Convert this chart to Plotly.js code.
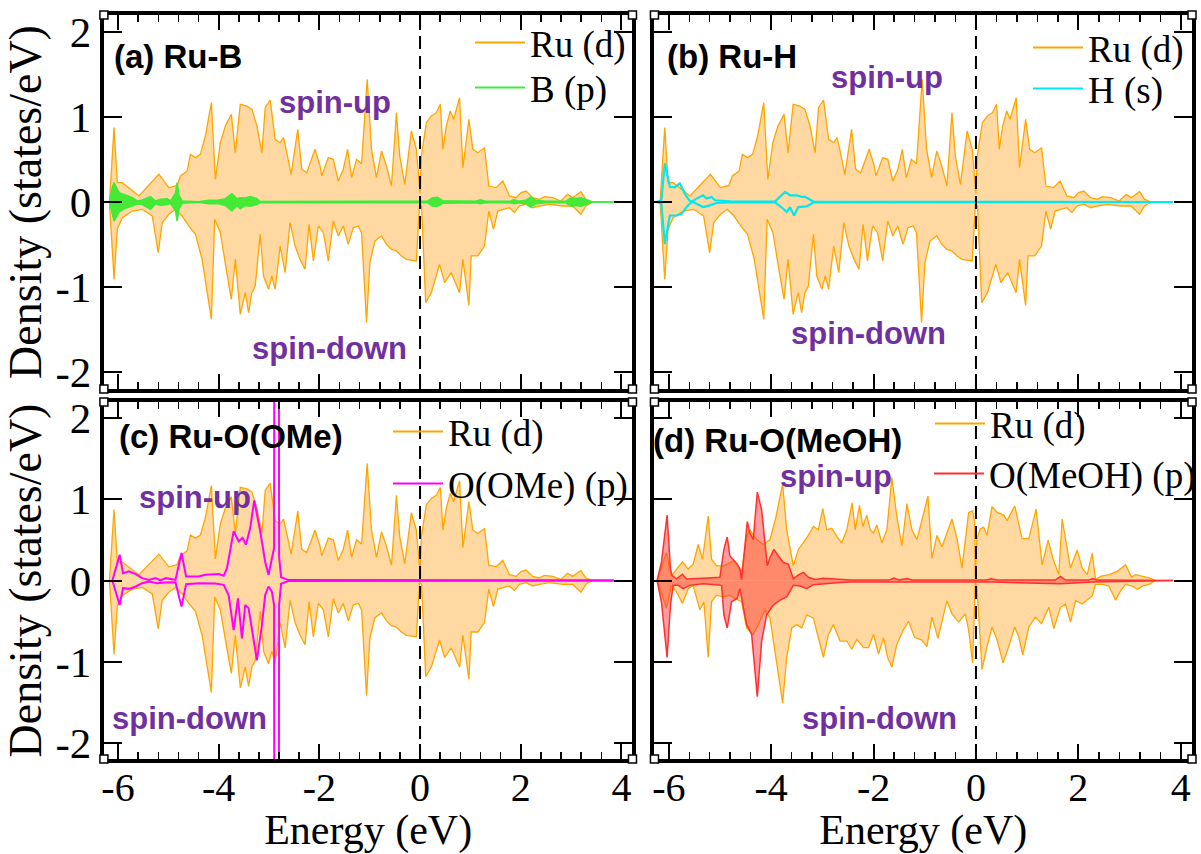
<!DOCTYPE html>
<html>
<head>
<meta charset="utf-8">
<script src="https://cdn.plot.ly/plotly-3.0.1.min.js"></script>
<style>html,body{margin:0;padding:0;background:#fff}#chart{width:1201px;height:854px}</style>
</head>
<body>
<div id="chart"></div>
<script>
// ---------- DATA (energy eV, density states/eV) ----------
// Ru (d) PDOS shared by panels (a), (b), (c)
const ruUp = [[-6.17,0],[-6.079,0.875],[-6.013,0.227],[-5.914,0.227],[-5.584,0.071],[-5.188,0.325],[-4.99,0.169],[-4.825,0.196],[-4.759,0.306],[-4.627,0.365],[-4.561,0.561],[-4.462,0.522],[-4.363,0.561],[-4.264,0.776],[-4.145,1.169],[-4.066,0.267],[-3.967,0.698],[-3.868,0.894],[-3.749,1.031],[-3.67,0.58],[-3.571,1.149],[-3.439,1.129],[-3.34,1.09],[-3.241,0.894],[-3.142,0.58],[-3.076,1.11],[-2.977,1.2],[-2.878,0.737],[-2.779,0.698],[-2.713,0.757],[-2.647,0.58],[-2.561,0.325],[-2.429,0.855],[-2.35,0.384],[-2.251,0.345],[-2.086,0.62],[-1.987,0.424],[-1.954,0.306],[-1.822,0.522],[-1.723,0.502],[-1.624,0.247],[-1.525,0.384],[-1.439,0.62],[-1.36,0.286],[-1.261,0.502],[-1.162,0.45],[-1.05,1.443],[-0.964,0.62],[-0.865,0.286],[-0.766,0.6],[-0.667,0.424],[-0.568,0.188],[-0.469,1.051],[-0.403,0.541],[-0.304,0.208],[-0.172,0.835],[-0.073,0.62],[-0.04,0.424],[0,0.1],[0.026,0.541],[0.125,0.933],[0.224,1.012],[0.323,1.051],[0.403,1.149],[0.455,0.62],[0.521,0.894],[0.601,1.071],[0.667,0.973],[0.785,1.227],[0.851,0.404],[0.97,0.973],[1.05,0.62],[1.149,0.58],[1.281,0.639],[1.366,0.188],[1.512,0.169],[1.644,0.247],[1.776,0.071],[1.908,0.051],[2.007,0.11],[2.106,0.129],[2.238,0.051],[2.37,0.031],[2.469,0.063],[2.634,0.051],[2.799,0.012],[2.931,0.09],[3.03,0.051],[3.195,0.122],[3.294,0.031],[3.426,0]];
const ruDown = [[-6.17,0],[-6.079,-0.91],[-6.013,-0.314],[-5.914,-0.184],[-5.716,-0.106],[-5.518,-0.086],[-5.32,-0.165],[-5.201,-0.596],[-5.122,-0.243],[-4.99,-0.145],[-4.858,-0.086],[-4.726,-0.165],[-4.594,-0.282],[-4.462,-0.38],[-4.33,-0.675],[-4.145,-1.38],[-4.079,-0.204],[-3.967,-0.361],[-3.855,-0.773],[-3.749,-1.145],[-3.67,-0.675],[-3.571,-1.322],[-3.472,-1.067],[-3.406,-1.302],[-3.34,-1.067],[-3.274,-0.988],[-3.175,-0.38],[-3.109,-0.871],[-3.01,-1.027],[-2.944,-0.871],[-2.878,-1.027],[-2.779,-0.518],[-2.68,-0.831],[-2.581,-0.243],[-2.482,-0.518],[-2.383,-0.675],[-2.284,-0.792],[-2.205,-0.263],[-2.119,-0.694],[-2.02,-0.282],[-1.921,-0.361],[-1.822,-0.694],[-1.723,-0.224],[-1.624,-0.4],[-1.525,-0.282],[-1.426,-0.498],[-1.327,-0.302],[-1.228,-0.282],[-1.162,-0.361],[-1.063,-1.42],[-0.997,-0.714],[-0.898,-0.459],[-0.766,-0.4],[-0.667,-0.498],[-0.568,-0.557],[-0.469,-0.576],[-0.37,-0.635],[-0.271,-0.675],[-0.073,-0.694],[-0.01,-0.02],[0.03,-0.05],[0.112,-1.184],[0.224,-1.067],[0.389,-0.733],[0.488,-0.949],[0.62,-0.831],[0.785,-1.067],[0.851,-0.675],[0.97,-1.216],[1.017,-0.635],[1.149,-0.635],[1.281,-0.518],[1.366,-0.106],[1.459,-0.322],[1.545,-0.106],[1.644,-0.086],[1.776,-0.067],[1.875,-0.125],[1.974,-0.047],[2.106,-0.027],[2.238,-0.067],[2.37,-0.047],[2.568,-0.027],[2.832,-0.047],[3.03,-0.047],[3.195,-0.145],[3.294,-0.047],[3.426,0]];
// (a) B (p)
const bUp = [[-6.17,0],[-6.112,0.18],[-6.079,0.227],[-5.98,0.11],[-5.881,0.09],[-5.716,0.051],[-5.617,0.012],[-5.518,0.024],[-5.353,0.063],[-5.254,0.012],[-5.155,0.031],[-5.023,0.039],[-4.957,0.012],[-4.86,0.1],[-4.825,0.227],[-4.79,0.08],[-4.726,0.012],[-4.396,0.004],[-4.198,0.02],[-4.0,0.024],[-3.868,0.039],[-3.736,0.098],[-3.637,0.039],[-3.571,0.051],[-3.472,0.047],[-3.373,0.063],[-3.241,0.039],[-3.175,0.005],[-1.0,0.008],[0.15,0.01],[0.25,0.05],[0.35,0.055],[0.45,0.015],[1.1,0.01],[1.2,0.025],[1.3,0.01],[1.8,0.01],[1.87,0.03],[1.95,0.01],[2.1,0.02],[2.2,0.06],[2.3,0.02],[2.5,0.01],[2.9,0.01],[3.0,0.05],[3.1,0.04],[3.2,0.05],[3.3,0.03],[3.43,0.0],[3.85,0]];
const bDown = [[-6.17,0],[-6.112,-0.15],[-6.079,-0.224],[-5.98,-0.12],[-5.881,-0.08],[-5.716,-0.047],[-5.617,-0.02],[-5.518,-0.03],[-5.353,-0.086],[-5.254,-0.02],[-5.155,-0.04],[-5.023,-0.03],[-4.957,-0.015],[-4.86,-0.1],[-4.825,-0.224],[-4.79,-0.08],[-4.726,-0.015],[-4.396,-0.004],[-4.198,-0.02],[-4.0,-0.02],[-3.868,-0.04],[-3.736,-0.106],[-3.637,-0.04],[-3.571,-0.08],[-3.472,-0.04],[-3.373,-0.05],[-3.241,-0.03],[-3.175,-0.005],[-1.0,-0.008],[0.15,-0.01],[0.25,-0.05],[0.35,-0.05],[0.45,-0.015],[1.1,-0.01],[1.2,-0.02],[1.3,-0.01],[1.8,-0.01],[1.87,-0.02],[1.95,-0.01],[2.1,-0.02],[2.2,-0.06],[2.3,-0.02],[2.5,-0.01],[2.9,-0.01],[3.0,-0.05],[3.1,-0.04],[3.2,-0.05],[3.3,-0.03],[3.43,0],[3.85,0]];
// (b) H (s)
const hUp = [[-6.241,0],[-6.144,0.02],[-6.078,0.456],[-5.98,0.179],[-5.883,0.171],[-5.785,0.218],[-5.687,0.099],[-5.602,0.02],[-5.556,0],[-5.459,0.04],[-5.328,0.079],[-5.263,0.04],[-5.165,0.06],[-5.1,0.02],[-4.806,0.008],[-3.926,0.004],[-3.73,0.119],[-3.632,0.079],[-3.502,0.079],[-3.404,0.06],[-3.339,0.06],[-3.175,0.005],[3.85,0]];
const hDown = [[-6.241,0],[-6.144,-0.02],[-6.078,-0.496],[-5.98,-0.159],[-5.85,-0.159],[-5.752,-0.139],[-5.654,-0.06],[-5.556,0],[-5.459,-0.02],[-5.328,-0.06],[-5.198,-0.04],[-5.067,-0.012],[-4.806,-0.004],[-3.926,-0.004],[-3.763,-0.079],[-3.698,-0.119],[-3.632,-0.06],[-3.554,-0.159],[-3.469,-0.06],[-3.306,-0.052],[-3.175,-0.005],[3.85,0]];
// (c) O(OMe) (p)
const omeUp = [[-6.112,0],[-5.967,0.318],[-5.901,0.091],[-5.782,0.112],[-5.65,0.079],[-5.518,0.029],[-5.386,0.008],[-5.254,0.029],[-5.155,0],[-5.056,0.029],[-4.858,0.008],[-4.739,0.339],[-4.647,0.05],[-4.396,0.05],[-4.264,0.07],[-4.0,0.079],[-3.901,0.058],[-3.835,0.153],[-3.703,0.607],[-3.604,0.483],[-3.525,0.525],[-3.459,0.442],[-3.373,0.649],[-3.294,0.988],[-3.175,0.607],[-3.076,0.227],[-3.01,0.07],[-2.944,0.277],[-2.9,0.4],[-2.85,30],[-2.8,0.3],[-2.76,0.04],[-2.614,0.005],[3.85,0]];
const omeDown = [[-6.112,0],[-5.967,-0.302],[-5.901,-0.095],[-5.782,-0.103],[-5.65,-0.074],[-5.518,-0.033],[-5.386,-0.012],[-5.221,-0.033],[-5.056,-0.025],[-4.858,-0.021],[-4.739,-0.322],[-4.647,-0.045],[-4.396,-0.033],[-4.066,-0.037],[-3.901,-0.054],[-3.802,-0.178],[-3.703,-0.612],[-3.617,-0.219],[-3.538,-0.715],[-3.472,-0.302],[-3.406,-0.343],[-3.327,-0.632],[-3.241,-0.983],[-3.142,-0.55],[-3.076,-0.178],[-3.01,-0.074],[-2.944,-0.136],[-2.9,-0.3],[-2.85,-30],[-2.8,-0.3],[-2.76,-0.04],[-2.614,-0.005],[3.85,0]];
// (d) Ru (d)
const ruMeohUp = [[-6.228,0],[-6.046,0.343],[-5.948,0.06],[-5.85,0.141],[-5.733,0.23],[-5.622,0.141],[-5.524,0.202],[-5.426,0.444],[-5.341,0.262],[-5.23,0.794],[-5.165,0.262],[-5.067,0.181],[-4.937,0.181],[-4.858,0.202],[-4.741,0.242],[-4.643,0.181],[-4.578,0.101],[-4.48,0.544],[-4.415,0.625],[-4.284,0.504],[-4.154,0.444],[-4.023,0.504],[-3.906,0.786],[-3.776,1.19],[-3.697,0.625],[-3.567,0.181],[-3.469,0.383],[-3.306,0.524],[-3.175,0.665],[-3.078,0.625],[-2.993,0.887],[-2.915,0.625],[-2.817,0.645],[-2.719,0.544],[-2.621,0.464],[-2.523,0.625],[-2.419,0.956],[-2.36,0.625],[-2.275,0.927],[-2.21,0.665],[-2.132,0.806],[-2.067,0.625],[-2.001,0.585],[-1.936,0.685],[-1.838,0.464],[-1.74,0.625],[-1.643,1.27],[-1.545,0.786],[-1.447,0.423],[-1.349,0.948],[-1.251,0.625],[-1.153,0.504],[-1.088,0.677],[-0.938,1.04],[-0.86,0.274],[-0.762,0.556],[-0.664,0.415],[-0.468,0.758],[-0.37,0.516],[-0.273,0.153],[-0.143,0.839],[-0.065,0.859],[-0.026,0.718],[-0.013,0.05],[0.02,0.516],[0.085,0.637],[0.151,0.657],[0.216,0.556],[0.314,0.911],[0.412,0.839],[0.542,0.806],[0.607,0.738],[0.757,0.919],[0.901,0.516],[1.032,0.516],[1.175,0.879],[1.292,0.194],[1.41,0.496],[1.501,0.274],[1.618,0.073],[1.683,0.758],[1.781,0.395],[1.847,0.153],[1.977,0.375],[2.075,0.153],[2.173,0.073],[2.271,0.335],[2.336,0.012],[2.434,0.052],[2.597,0.073],[2.76,0.113],[2.923,0.194],[3.041,0.04],[3.119,0.073],[3.25,0.052],[3.38,0.032],[3.511,0]];
const ruMeohDown = [[-6.228,0],[-6.046,-0.343],[-5.948,-0.06],[-5.85,-0.141],[-5.733,-0.282],[-5.622,-0.101],[-5.524,-0.06],[-5.393,-0.363],[-5.315,-0.262],[-5.23,-0.948],[-5.165,-0.262],[-5.067,-0.181],[-4.937,-0.202],[-4.806,-0.181],[-4.708,-0.222],[-4.578,-0.262],[-4.48,-0.585],[-4.35,-0.665],[-4.252,-0.544],[-4.121,-0.363],[-4.023,-0.464],[-3.906,-0.948],[-3.776,-1.512],[-3.697,-0.948],[-3.599,-0.585],[-3.502,-0.544],[-3.404,-0.585],[-3.306,-0.423],[-3.175,-0.464],[-3.078,-0.706],[-2.98,-0.948],[-2.882,-0.665],[-2.784,-0.544],[-2.654,-0.746],[-2.523,-0.746],[-2.425,-0.847],[-2.327,-0.726],[-2.197,-0.827],[-2.099,-0.827],[-2.001,-0.665],[-1.903,-0.907],[-1.806,-0.706],[-1.727,-0.948],[-1.643,-1.069],[-1.545,-0.786],[-1.415,-0.605],[-1.316,-0.504],[-1.2,-0.7],[-1.055,-0.734],[-0.958,-0.815],[-0.86,-0.452],[-0.743,-0.714],[-0.567,-0.25],[-0.468,-0.411],[-0.338,-0.512],[-0.208,-0.411],[-0.143,-0.613],[-0.065,-1.016],[-0.026,-0.411],[-0.013,-0.02],[0.02,-0.089],[0.118,-1.097],[0.216,-0.815],[0.314,-0.573],[0.412,-0.734],[0.529,-1.016],[0.64,-0.815],[0.757,-0.573],[0.836,-0.694],[0.914,-0.915],[1.032,-0.573],[1.162,-0.452],[1.279,-0.532],[1.423,-0.331],[1.521,-0.593],[1.651,-0.331],[1.749,-0.29],[1.847,-0.512],[1.945,-0.25],[2.075,-0.29],[2.271,-0.19],[2.336,-0.048],[2.467,-0.048],[2.597,-0.069],[2.728,-0.242],[2.825,-0.129],[2.923,-0.048],[3.054,-0.069],[3.152,-0.109],[3.25,-0.069],[3.38,-0.048],[3.511,0]];
// (d) O(MeOH) (p)
const meohUp = [[-6.228,0],[-6.144,0.222],[-6.033,0.806],[-5.967,0.141],[-5.935,0.06],[-5.85,0.02],[-5.733,0.077],[-5.654,0.02],[-5.328,0.028],[-5.002,0.04],[-4.924,0.383],[-4.858,0.536],[-4.806,0.302],[-4.741,0.262],[-4.663,0.202],[-4.611,0.141],[-4.578,0.01],[-4.532,0.302],[-4.467,0.726],[-4.415,0.585],[-4.35,0.504],[-4.271,1.089],[-4.186,0.867],[-4.121,0.464],[-4.076,0.181],[-4.023,0.282],[-3.945,0.383],[-3.86,0.302],[-3.763,0.222],[-3.665,0.202],[-3.567,0.02],[-3.469,0.069],[-3.371,0.101],[-3.273,0.04],[-3.143,0.012],[-2.98,0.028],[-2.719,0.012],[-2.458,0.005],[-1.7,0.005],[-1.6,0.03],[-1.5,0.005],[-1.35,0.025],[-1.25,0.005],[0.2,0.005],[0.3,0.02],[0.4,0.005],[1.55,0.005],[1.65,0.05],[1.75,0.005],[2.2,0.005],[2.28,0.025],[2.36,0.005],[3.85,0]];
const meohDown = [[-6.228,0],[-6.144,-0.262],[-6.033,-0.948],[-5.967,-0.302],[-5.915,-0.06],[-5.817,-0.06],[-5.72,-0.101],[-5.589,-0.06],[-5.328,-0.04],[-5.067,-0.052],[-4.969,-0.06],[-4.924,-0.423],[-4.858,-0.585],[-4.774,-0.262],[-4.663,-0.222],[-4.611,-0.101],[-4.558,-0.302],[-4.48,-0.544],[-4.382,-0.665],[-4.271,-1.431],[-4.186,-0.746],[-4.089,-0.423],[-3.958,-0.302],[-3.828,-0.242],[-3.698,-0.202],[-3.567,-0.06],[-3.437,-0.069],[-3.306,-0.101],[-3.176,-0.052],[-2.98,-0.04],[-2.719,-0.028],[-2.458,-0.02],[-1.6,-0.02],[-1.3,-0.015],[0.3,-0.02],[1.65,-0.04],[2.28,-0.02],[3.85,0]];

// tick labels and texts
const xTickVals = [-6,-4,-2,0,2,4];
const xTickText = ['-6','-4','-2','0','2','4'];
const yTickVals = [-2,-1,0,1,2];
const yTickText = ['-2','-1','0','1','2'];
const panelTitles = ['(a) Ru-B','(b) Ru-H','(c) Ru-O(OMe)','(d) Ru-O(MeOH)'];
const legendNames = [['Ru (d)','B (p)'],['Ru (d)','H (s)'],['Ru (d)','O(OMe) (p)'],['Ru (d)','O(MeOH) (p)']];

// ---------- STYLE ----------
const SERIF = 'Liberation Serif, Times New Roman, serif';
const SANS = 'Liberation Sans, Arial, sans-serif';
const ORANGE = '#FFA500', ORANGE_FILL = 'rgba(255,165,30,0.42)';
const PURPLE = '#7030A0';

function xs(p){return p.map(d=>d[0]);}
function ys(p){return p.map(d=>d[1]);}
function trace(p, ax, color, width, fill){
  const t = {x: xs(p), y: ys(p), xaxis: 'x'+ax, yaxis: 'y'+ax, type:'scatter', mode:'lines',
    line:{color:color, width:width}, showlegend:false, hoverinfo:'skip'};
  if (fill){ t.fill = 'tozeroy'; t.fillcolor = fill; }
  return t;
}
function legendItem(name, color, ax, lg){
  return {x:[null], y:[null], xaxis:'x'+ax, yaxis:'y'+ax, type:'scatter', mode:'lines',
    line:{color:color, width:2}, name:name, legend:lg, showlegend:true, hoverinfo:'skip'};
}

const data = [];
data.push(trace(ruUp,'', ORANGE,1.3,ORANGE_FILL), trace(ruDown,'',ORANGE,1.3,ORANGE_FILL));
data.push(trace(bUp,'','#3CEB3C',1.5,'rgba(50,235,40,0.9)'), trace(bDown,'','#3CEB3C',1.5,'rgba(50,235,40,0.9)'));
data.push(trace(ruUp,'2', ORANGE,1.3,ORANGE_FILL), trace(ruDown,'2',ORANGE,1.3,ORANGE_FILL));
data.push(trace(hUp,'2','#00E8F0',2.2,null), trace(hDown,'2','#00E8F0',2.2,null));
data.push(trace(ruUp,'3', ORANGE,1.3,ORANGE_FILL), trace(ruDown,'3',ORANGE,1.3,ORANGE_FILL));
data.push(trace(omeUp,'3','#FF00FF',2,null), trace(omeDown,'3','#FF00FF',2,null));
data.push(trace(ruMeohUp,'4', ORANGE,1.3,ORANGE_FILL), trace(ruMeohDown,'4',ORANGE,1.3,ORANGE_FILL));
data.push(trace(meohUp,'4','#FF3030',1.5,'rgba(255,40,40,0.45)'), trace(meohDown,'4','#FF3030',1.5,'rgba(255,40,40,0.45)'));
const pdosColors = ['#3CEB3C','#00E8F0','#FF00FF','#FF3030'];
const axIds = ['','2','3','4'];
const lgIds = [];
for (let i=0;i<4;i++){
  const a = 'legend'+(i===0?'':(2*i+1)), b = 'legend'+(2*i+2);
  lgIds.push([a,b]);
  data.push(legendItem(legendNames[i][0], ORANGE, axIds[i], a));
  data.push(legendItem(legendNames[i][1], pdosColors[i], axIds[i], b));
}

// ---------- LAYOUT ----------
const W=1201, H=854;
const colX = [[104/W, 633/W],[655/W, 1193/W]];
const rowY = [[1-389/H, 1-15/H],[1-759/H, 1-402/H]];

function xaxis(col,row){
  return {domain: colX[col], range:[-6.28,4.22], anchor: 'y'+axIds[row*2+col],
    showline:true, linewidth:4, linecolor:'#000', mirror:'allticks',
    ticks:'inside', ticklen:15, tickwidth:2, tickcolor:'#000',
    tickmode:'array', tickvals:xTickVals, ticktext:xTickText,
    minor:{tickmode:'linear', tick0:0, dtick:0.4, ticks:'inside', ticklen:7, tickwidth:1.5, tickcolor:'#000'},
    showticklabels: row===1, tickfont:{family:SERIF, size:40, color:'#000'}, ticklabelstandoff:-10,
    showgrid:false, zeroline:false, fixedrange:true,
    title: row===1 ? {text:'Energy (eV)', font:{family:SERIF,size:42,color:'#000'}, standoff:6} : {text:''}};
}
function yaxis(col,row){
  return {domain: rowY[row], range:[-2.2,2.2], anchor:'x'+axIds[row*2+col],
    showline:true, linewidth:4, linecolor:'#000', mirror:'allticks',
    ticks:'inside', ticklen:18, tickwidth:2, tickcolor:'#000',
    tickmode:'array', tickvals:yTickVals, ticktext:yTickText,
    showticklabels: col===0, tickfont:{family:SERIF, size:43, color:'#000'},
    showgrid:false, zeroline:false, fixedrange:true,
    title: col===0 ? {text:'Density (states/eV)', font:{family:SERIF,size:46,color:'#000'}, standoff:2} : {text:''}};
}

const layout = {
  width:W, height:H, margin:{l:0,r:0,t:0,b:0}, paper_bgcolor:'#fff', plot_bgcolor:'rgba(0,0,0,0)',
  xaxis: xaxis(0,0), yaxis: yaxis(0,0),
  xaxis2: xaxis(1,0), yaxis2: yaxis(1,0),
  xaxis3: xaxis(0,1), yaxis3: yaxis(0,1),
  xaxis4: xaxis(1,1), yaxis4: yaxis(1,1),
  shapes: [], annotations: []
};
const lgText = [[[530,47],[530,92]],[[1088,52],[1088,93]],[[448,436],[448,488]],[[990,428],[990,478]]];
for (let i=0;i<4;i++){
  for (let j=0;j<2;j++){
    layout[lgIds[i][j]] = {x:(lgText[i][j][0]-60)/W, y:1-(lgText[i][j][1]-35)/H, xanchor:'left', yanchor:'top',
      bgcolor:'rgba(0,0,0,0)', font:{family:SERIF, size:37, color:'#000'}, itemwidth:50, borderwidth:0};
  }
}
for (let i=0;i<4;i++){
  const xr = 'x'+axIds[i], yr = 'y'+axIds[i];
  layout.shapes.push({type:'line', xref:xr, yref:yr+' domain', x0:0, x1:0, y0:0, y1:1,
    line:{color:'#000', width:2, dash:'13px,7px'}, layer:'above'});
  [[0,0],[1,0],[0,1],[1,1]].forEach(c=>{
    layout.shapes.push({type:'rect', xref:xr+' domain', yref:yr+' domain', xsizemode:'pixel', ysizemode:'pixel',
      xanchor:c[0], yanchor:c[1], x0:-4, x1:4, y0:-4, y1:4, fillcolor:'#fff', line:{color:'#000', width:1.5}, layer:'above'});
  });
}
const titlePos = [[112,57],[666,57],[117,436],[652,440]];
for (let i=0;i<4;i++){
  layout.annotations.push({xref:'paper', yref:'paper', x:titlePos[i][0]/W, y:1-titlePos[i][1]/H, xanchor:'left', yanchor:'middle',
    text:'<b>'+panelTitles[i]+'</b>', showarrow:false, font:{family:SANS, size:33, color:'#000'}});
}
const spinPos = [[[335,102],[330,348]],[[888,78],[869,333]],[[195,497],[190,718]],[[837,477],[880,718]]];
for (let i=0;i<4;i++){
  ['spin-up','spin-down'].forEach((s,j)=>{
    layout.annotations.push({xref:'paper', yref:'paper', x:spinPos[i][j][0]/W, y:1-spinPos[i][j][1]/H, xanchor:'center', yanchor:'middle',
      text:'<b>'+s+'</b>', showarrow:false, font:{family:SANS, size:31, color:PURPLE}});
  });
}

Plotly.newPlot('chart', data, layout, {staticPlot:true, displayModeBar:false});
</script>
</body>
</html>
